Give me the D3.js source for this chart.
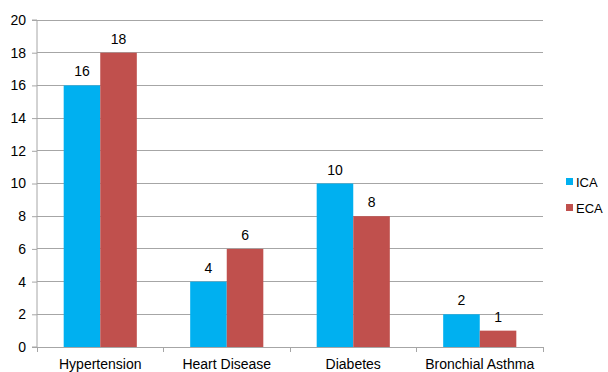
<!DOCTYPE html>
<html>
<head>
<meta charset="utf-8">
<script src="https://cdn.jsdelivr.net/npm/d3@7"></script>
<style>
  body { margin: 0; background: #fff; }
  svg { display: block; font-family: "Liberation Sans", Arial, sans-serif; }
</style>
</head>
<body>
<svg id="chart" width="608" height="372"></svg>
<script>
const categories = ["Hypertension", "Heart Disease", "Diabetes", "Bronchial Asthma"];
const seriesNames = ["ICA", "ECA"];
const icaValues = [16, 4, 10, 2];
const ecaValues = [18, 6, 8, 1];
const yTicks = [0, 2, 4, 6, 8, 10, 12, 14, 16, 18, 20];
const colors = ["#00B0F0", "#C0504D"];

const svg = d3.select("#chart");
const margin = { left: 37, right: 65, top: 20, bottom: 25 };
const W = 608, H = 372;

const x = d3.scaleBand().domain(categories).range([margin.left, W - margin.right]).paddingInner(0).paddingOuter(0);
const y = d3.scaleLinear().domain([0, 20]).range([H - margin.bottom, margin.top]);
const inner = d3.scaleBand().domain(seriesNames).range([0, x.bandwidth()]).paddingInner(0).paddingOuter(0.73);

const rows = categories.map((c, i) => ({ cat: c, vals: [icaValues[i], ecaValues[i]] }));

// Horizontal gridlines
svg.append("g").selectAll("line").data(yTicks.filter(t => t > 0)).join("line")
  .attr("x1", margin.left).attr("x2", W - margin.right)
  .attr("y1", d => y(d)).attr("y2", d => y(d))
  .attr("stroke", "#a6a6a6").attr("stroke-width", 1)
  .attr("shape-rendering", "crispEdges");

// Bars
const groups = svg.append("g").selectAll("g").data(rows).join("g")
  .attr("transform", d => `translate(${x(d.cat)},0)`);
groups.selectAll("rect").data(d => d.vals.map((v, j) => ({ v, s: seriesNames[j], j }))).join("rect")
  .attr("x", d => inner(d.s)).attr("width", inner.bandwidth())
  .attr("y", d => y(d.v)).attr("height", d => y(0) - y(d.v))
  .attr("fill", d => colors[d.j]);

// Value labels
groups.selectAll("text").data(d => d.vals.map((v, j) => ({ v, s: seriesNames[j] }))).join("text")
  .attr("x", d => inner(d.s) + inner.bandwidth() / 2)
  .attr("y", d => y(d.v) - 9)
  .attr("text-anchor", "middle")
  .attr("font-size", 14).attr("fill", "#000")
  .text(d => d.v);

// Y axis
const yAxis = svg.append("g").attr("transform", `translate(${margin.left},0)`)
  .call(d3.axisLeft(y).tickValues(yTicks).tickSize(5).tickPadding(6).tickFormat(d3.format("d")));
yAxis.select(".domain").attr("stroke", "#a6a6a6").attr("d", `M-5,${y(0)}H0V${y(20)}H-5`);
yAxis.selectAll(".tick line").attr("stroke", "#a6a6a6");
yAxis.selectAll(".tick text").attr("font-size", 14).attr("fill", "#000").attr("font-family", "Liberation Sans, Arial, sans-serif");

// X axis
const xTickPos = categories.map(c => x(c)).concat([x.range()[1]]);
const xAxis = svg.append("g");
xAxis.append("line").attr("x1", margin.left).attr("x2", W - margin.right)
  .attr("y1", y(0)).attr("y2", y(0)).attr("stroke", "#a6a6a6").attr("shape-rendering", "crispEdges");
xAxis.selectAll("line.tk").data(xTickPos).join("line").attr("class", "tk")
  .attr("x1", d => d).attr("x2", d => d)
  .attr("y1", y(0)).attr("y2", y(0) + 5)
  .attr("stroke", "#a6a6a6").attr("shape-rendering", "crispEdges");
xAxis.selectAll("text").data(categories).join("text")
  .attr("x", d => x(d) + x.bandwidth() / 2)
  .attr("y", H - 3)
  .attr("text-anchor", "middle")
  .attr("font-size", 14).attr("fill", "#000")
  .text(d => d);

// Legend
const legend = svg.append("g").selectAll("g").data(seriesNames).join("g")
  .attr("transform", (d, i) => `translate(566,${182 + i * 26})`);
legend.append("rect").attr("x", 0).attr("y", -4).attr("width", 7).attr("height", 7)
  .attr("fill", (d, i) => colors[i]);
legend.append("text").attr("x", 10).attr("y", 5).attr("font-size", 13).attr("fill", "#000").text(d => d);
</script>
</body>
</html>
